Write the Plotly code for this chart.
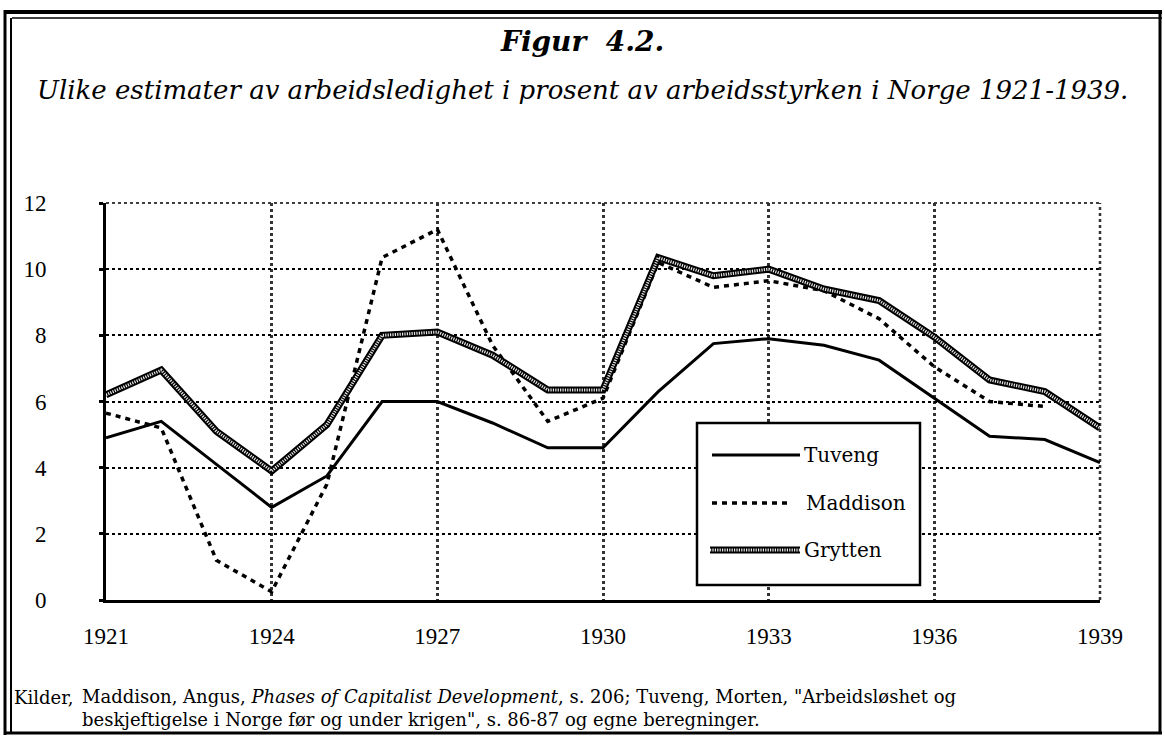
import plotly.graph_objects as go

# data (percent of labour force)
years = list(range(1921, 1940))
tuveng = [4.9, 5.4, 4.1, 2.8, 3.75, 6.0, 6.0, 5.35, 4.6, 4.6, 6.3, 7.75, 7.9, 7.7, 7.25, 6.1, 4.95, 4.85, 4.15]
maddison = [5.65, 5.2, 1.2, 0.25, 3.5, 10.35, 11.2, 7.7, 5.4, 6.1, 10.2, 9.45, 9.65, 9.35, 8.5, 7.05, 6.0, 5.85, None]
grytten = [6.2, 6.95, 5.1, 3.9, 5.3, 8.0, 8.1, 7.4, 6.35, 6.35, 10.35, 9.8, 10.0, 9.4, 9.05, 7.95, 6.65, 6.3, 5.2]
x_ticks = [1921, 1924, 1927, 1930, 1933, 1936, 1939]
y_ticks = [0, 2, 4, 6, 8, 10, 12]

W, H = 1165, 736
L, R, T, B = 106, 1100, 203, 600
SERIF = "Liberation Serif, Times New Roman, serif"
WIDE = "DejaVu Serif, serif"


def px(x):
    return (x - L) / (R - L)


def py(y):
    return (B - y) / (B - T)


fig = go.Figure()

fig.add_trace(go.Scatter(x=years, y=tuveng, name='Tuveng', mode='lines',
                         line=dict(color='black', width=3)))
fig.add_trace(go.Scatter(x=years, y=maddison, name='Maddison', mode='lines',
                         line=dict(color='black', width=3.5, dash='5px,5px')))
# hatched look: thick dark line with fine light dots on top
fig.add_trace(go.Scatter(x=years, y=grytten, name='Grytten', mode='lines',
                         line=dict(color='black', width=7)))
fig.add_trace(go.Scatter(x=years, y=grytten, mode='lines', showlegend=False,
                         line=dict(color='#e8e8e8', width=3, dash='1.2px,1.2px')))

shapes = []
def seg(x0, y0, x1, y1, w, dash='solid', color='black'):
    shapes.append(dict(type='line', xref='paper', yref='paper',
                       x0=px(x0), y0=py(y0), x1=px(x1), y1=py(y1),
                       line=dict(color=color, width=w, dash=dash), layer='above'))

# frame round the whole figure
seg(4, 12, 1162, 12, 4)
seg(12, 18, 1162, 18, 1.5)
seg(5, 10, 5, 735, 3)
seg(11, 18, 11, 733, 2)
seg(1160, 10, 1160, 733, 3)
seg(4, 733, 1162, 733, 3)

# top and right edges of the plot are dotted grid lines
shapes.append(dict(type='line', xref='paper', yref='paper', x0=0, x1=1, y0=1, y1=1,
                   line=dict(color='black', width=1.5, dash='dot'), layer='below'))
shapes.append(dict(type='line', xref='paper', yref='paper', x0=1, x1=1, y0=0, y1=1,
                   line=dict(color='#333', width=2.5, dash='dot'), layer='below'))

# legend box, drawn by hand so the sample lines are long as in the original
shapes.append(dict(type='rect', xref='paper', yref='paper',
                   x0=px(697), y0=py(585), x1=px(920), y1=py(423),
                   line=dict(color='black', width=2.5), fillcolor='white', layer='above'))
seg(712, 455, 800, 455, 3)
seg(712, 503, 792, 503, 3.5, dash='5px,5px')
seg(710, 550, 800, 550, 7)
seg(710, 550, 800, 550, 3, dash='1.2px,1.2px', color='#e8e8e8')

annotations = [
    dict(text='<b><i>Figur  4.2.</i></b>', x=px(582), y=py(41), font=dict(size=28, family=WIDE)),
    dict(text='<i>Ulike estimater av arbeidsledighet i prosent av arbeidsstyrken i Norge 1921-1939.</i>',
         x=px(582), y=py(90), font=dict(size=26, family=WIDE)),
    dict(text='Tuveng', x=px(802), y=py(455), xanchor='left', font=dict(size=20, family=WIDE)),
    dict(text='Maddison', x=px(804), y=py(503), xanchor='left', font=dict(size=20, family=WIDE)),
    dict(text='Grytten', x=px(802), y=py(550), xanchor='left', font=dict(size=20, family=WIDE)),
    dict(text='Kilder,', x=px(12), y=py(697), xanchor='left', font=dict(size=18, family=WIDE)),
    dict(text='Maddison, Angus, <i>Phases of Capitalist Development</i>, s. 206; Tuveng, Morten, '
              '"Arbeidsløshet og<br>beskjeftigelse i Norge før og under krigen", s. 86-87 og egne beregninger.',
         x=px(80), y=py(708), xanchor='left', align='left', font=dict(size=18, family=WIDE)),
]
for a in annotations:
    a.update(xref='paper', yref='paper', showarrow=False, yanchor='middle')

fig.update_layout(
    width=W, height=H,
    margin=dict(l=L, r=W - R, t=T, b=H - B),
    paper_bgcolor='white', plot_bgcolor='white',
    font=dict(family=SERIF, color='black'),
    showlegend=False,
    shapes=shapes,
    annotations=annotations,
    xaxis=dict(range=[1921, 1939], tickvals=x_ticks, showgrid=True,
               gridcolor='#333', gridwidth=2.5, griddash='dot',
               showline=True, linecolor='black', linewidth=3,
               ticks='', tickfont=dict(size=23), ticklabelstandoff=13,
               zeroline=False),
    yaxis=dict(range=[0, 12], tickvals=y_ticks, showgrid=True,
               gridcolor='black', gridwidth=1.5, griddash='dot',
               showline=True, linecolor='black', linewidth=3,
               ticks='outside', ticklen=4, tickwidth=3, tickcolor='black',
               tickfont=dict(size=23), ticklabelstandoff=48,
               zeroline=False),
)

# drop the default page margin so the figure sits at the window corner
fig.write_html("out.html", config={'displayModeBar': False},
               post_script="document.body.style.margin='0';")
